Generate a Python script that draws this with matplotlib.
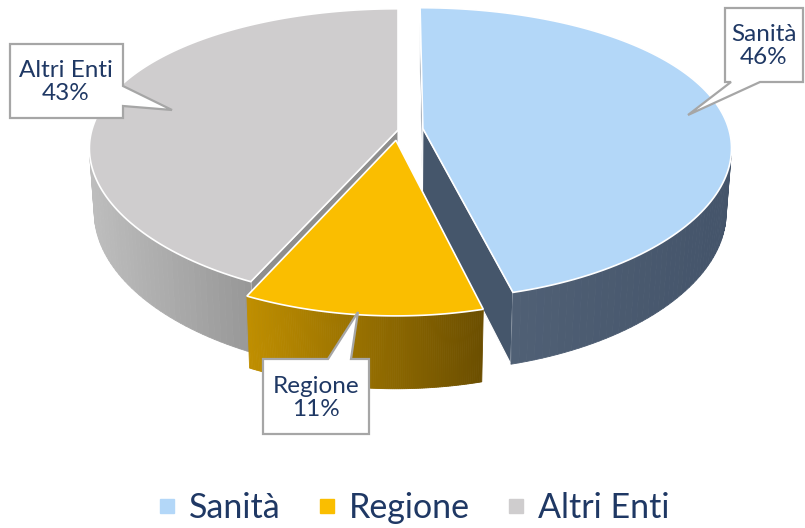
import numpy as np
import matplotlib.pyplot as plt
from matplotlib.patches import Polygon
from matplotlib.lines import Line2D
from matplotlib.colors import to_rgb

plt.rcParams['font.family'] = ['Lato', 'DejaVu Sans']

# data
labels = ['Sanità', 'Regione', 'Altri Enti']
values = [46, 11, 43]

top_colors = ['#B3D7F8', '#FABE00', '#CFCDCE']
wall_left = ['#506075', '#C08F00', '#BEBEBE']
wall_right = ['#44546A', '#6B4E00', '#979797']
face_colors = ['#45566B', '#7A5A00', '#8E8E8E']
explode = [0.082, 0.072, 0.0]
TEXT = '#1F3864'

# 3d view settings (pixel space)
CX, CY = 398, 130
K = 1595
DIST = 5.21
DIST_H = 7.0
ELEV = np.radians(27.6)
DEPTH = 0.24


def proj(X, Y, Z):
    dep = -Y * np.sin(ELEV) + Z * np.cos(ELEV) + DIST
    dep_h = -Y * np.sin(ELEV) + Z * np.cos(ELEV) + DIST_H
    xs = X / dep_h * DIST_H / DIST
    ys = (Y * np.cos(ELEV) + Z * np.sin(ELEV)) / dep
    return np.column_stack([CX + K * xs, CY - K * ys])


def area(pts):
    x, y = pts[:, 0], pts[:, 1]
    return 0.5 * np.sum(x * np.roll(y, -1) - np.roll(x, -1) * y)


def mix(c1, c2, f):
    a, b = np.array(to_rgb(c1)), np.array(to_rgb(c2))
    return tuple(a + (b - a) * f)


fig = plt.figure(figsize=(8.05, 5.28), dpi=100)
ax = fig.add_axes([0, 0, 1, 1])
ax.set_xlim(0, 805)
ax.set_ylim(528, 0)
ax.axis('off')

total = sum(values)
starts = np.concatenate([[0], np.cumsum(values)[:-1]]) / total * 360
spans = np.array(values) / total * 360

for i in [0, 2, 1]:
    t1, t2 = starts[i], starts[i] + spans[i]
    mid = np.radians((t1 + t2) / 2)
    ex, ez = explode[i] * np.sin(mid), explode[i] * np.cos(mid)
    ts = np.radians(np.linspace(t1, t2, 120))
    X = ex + np.sin(ts)
    Z = ez + np.cos(ts)
    top = proj(X, np.zeros_like(X), Z)
    bot = proj(X, -DEPTH * np.ones_like(X), Z)
    ct = proj(np.array([ex]), np.array([0.0]), np.array([ez]))[0]
    cb = proj(np.array([ex]), np.array([-DEPTH]), np.array([ez]))[0]

    # radial faces
    for j, sign in [(0, -1), (-1, 1)]:
        face = np.array([ct, top[j], bot[j], cb])
        if sign * area(face) > 0:
            ax.add_patch(Polygon(face, closed=True, facecolor=face_colors[i],
                                 edgecolor='white', lw=0.8, zorder=1))

    # outer wall
    quads = []
    for k in range(len(ts) - 1):
        q = np.array([top[k], top[k + 1], bot[k + 1], bot[k]])
        if area(q) < 0:
            quads.append(q)
    if quads:
        xs = np.concatenate([q[:, 0] for q in quads])
        x0, x1 = xs.min(), xs.max()
        for q in quads:
            f = (q[:, 0].mean() - x0) / max(x1 - x0, 1)
            c = mix(wall_left[i], wall_right[i], f)
            ax.add_patch(Polygon(q, closed=True, facecolor=c, edgecolor=c,
                                 lw=0.6, zorder=1))

    ax.add_patch(Polygon(np.vstack([ct, top]), closed=True,
                         facecolor=top_colors[i], edgecolor='white',
                         lw=1.2, zorder=2))

# callouts
callouts = {
    'Sanità': [(725, 8), (803, 8), (803, 82), (760, 82), (688, 115),
               (731, 82), (725, 82)],
    'Regione': [(263, 359), (328, 359), (358, 312), (351, 359), (369, 359),
                (369, 434), (263, 434)],
    'Altri Enti': [(10, 44), (123, 44), (123, 86), (172, 110), (123, 106),
                   (123, 118), (10, 118)],
}
text_pos = {'Sanità': (764, 46), 'Regione': (316, 398),
            'Altri Enti': (66, 82)}

for name, v in zip(labels, values):
    ax.add_patch(Polygon(callouts[name], closed=True, facecolor='white',
                         edgecolor='#A6A6A6', lw=1.6, zorder=5))
    ax.text(*text_pos[name], f'{name}\n{v}%', ha='center', va='center',
            fontsize=17.5, color=TEXT, linespacing=1.1, zorder=6)

handles = [Line2D([], [], marker='s', ls='', markersize=10,
                  markerfacecolor=c, markeredgecolor=c) for c in top_colors]
fig.legend(handles, labels, loc='center', bbox_to_anchor=(414 / 805, 1 - 508 / 528),
           ncol=3, frameon=False, fontsize=24.5, labelcolor=TEXT,
           handletextpad=0.4, columnspacing=1.1, handlelength=0.5)

fig.savefig('out.png', dpi=100)
